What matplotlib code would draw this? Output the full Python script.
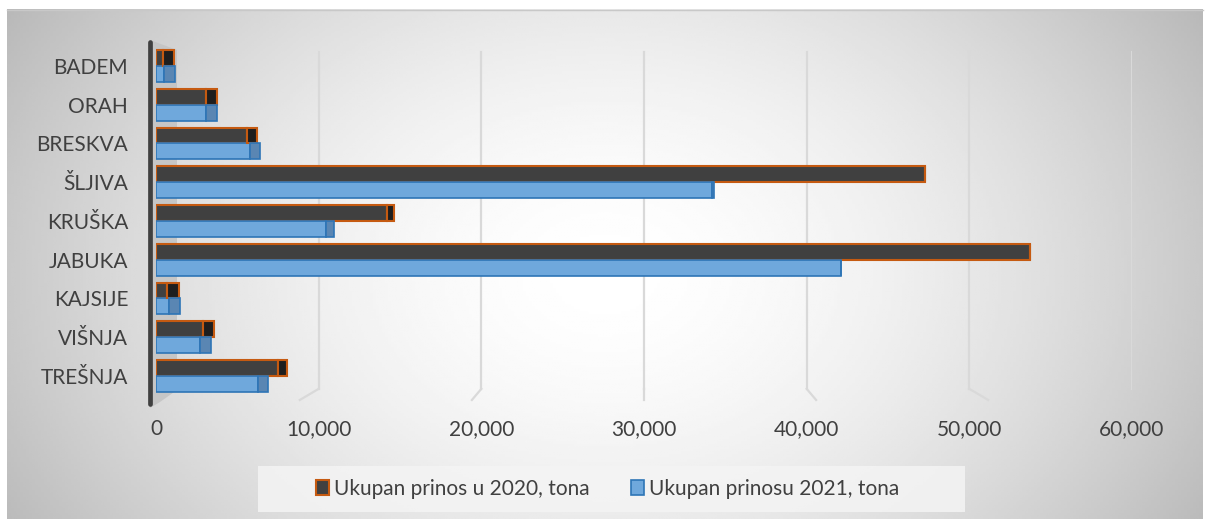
import numpy as np
import matplotlib
matplotlib.use('Agg')
import matplotlib.pyplot as plt
import matplotlib.transforms as mtransforms
from matplotlib.patches import Patch, Polygon, Rectangle
from matplotlib.lines import Line2D

# data (tona)
categories = ['BADEM', 'ORAH', 'BRESKVA', 'ŠLJIVA', 'KRUŠKA', 'JABUKA', 'KAJSIJE', 'VIŠNJA', 'TREŠNJA']
prinos_2020 = [400, 3100, 5600, 47300, 14200, 53700, 700, 2900, 7500]
prinos_2021 = [500, 3100, 5800, 34200, 10450, 42100, 800, 2700, 6300]
x_ticks = [0, 10000, 20000, 30000, 40000, 50000, 60000]
legend_labels = ['Ukupan prinos u 2020, tona', 'Ukupan prinosu 2021, tona']

plt.rcParams['font.family'] = ['Lato', 'DejaVu Sans']
TEXT = '#404040'
DARK, ORANGE = '#404040', '#c55a11'
BLUE, BLUE_EDGE = '#6fa8dc', '#2e75b6'

W, H = 1207, 519
fig = plt.figure(figsize=(W / 100, H / 100), dpi=100)
fig.patch.set_facecolor('white')


def px(x0, y0, x1, y1):
    # pixel box -> figure fraction [left, bottom, width, height]
    return [x0 / W, 1 - y1 / H, (x1 - x0) / W, (y1 - y0) / H]


# background: soft radial gradient, white centre, grey edges
bg = fig.add_axes(px(7, 9, 1203, 519), zorder=-10)
gx, gy = np.meshgrid(np.linspace(0, 1, 400), np.linspace(0, 1, 200))
r = np.sqrt(((gx - 0.5) / 0.55) ** 2 + ((gy - 0.52) / 0.95) ** 2)
shade = 1 - 0.25 * np.clip(r, 0, 1.1) ** 1.7
bg.imshow(shade, cmap='gray', vmin=0, vmax=1, extent=[0, 1, 0, 1], aspect='auto')
bg.axis('off')
fig.add_artist(Line2D([7 / W, 1203 / W], [1 - 9.5 / H] * 2, color='#c8c8c8', lw=1))

# left side wall of the 3d plot and the value axis line (behind the bars)
wall = [(150, 40), (177, 50), (177, 390), (160, 402), (150, 408)]
fig.add_artist(Polygon([(x / W, 1 - y / H) for x, y in wall], closed=True,
                       facecolor='#c4c4c4', edgecolor='none', alpha=0.9, zorder=-5))
fig.add_artist(Line2D([150 / W, 150 / W], [1 - 42 / H, 1 - 404 / H], color=TEXT,
                      lw=3.4, solid_capstyle='round', zorder=-4))

ax = fig.add_axes(px(156, 46, 1132, 405))
ax.patch.set_alpha(0)
ax.set_xlim(0, 60000)
ax.set_ylim(8.749, -0.516)

# gridlines (back wall + small floor slant)
trans = mtransforms.blended_transform_factory(ax.transData, ax.transAxes)
for g in x_ticks[1:]:
    ax.plot([g, g], [0.983, 0.045], transform=trans, color='#d9d9d9', lw=1.6, zorder=0)
    ax.plot([g, g + (g - 30000) * 0.058], [0.045, 0.014], transform=trans,
            color='#d9d9d9', lw=1.6, zorder=0)

y = np.arange(len(categories))
h = 0.41
v20 = np.array(prinos_2020)
v21 = np.array(prinos_2021)
ax.barh(y - h / 2, v20, height=h, color=DARK, edgecolor=ORANGE, lw=1.5, zorder=3)
ax.barh(y + h / 2, v21, height=h, color=BLUE, edgecolor=BLUE_EDGE, lw=1.2, zorder=3)
# visible end faces of the 3d bars (shrink towards the centre of view)
cap20 = np.clip(40000 - v20, 0, None) * 0.0175
cap21 = np.clip(40000 - v21, 0, None) * 0.0175
ax.barh(y - h / 2, cap20, left=v20, height=h, color='#1e1e1e', edgecolor=ORANGE, lw=1.5, zorder=3)
ax.barh(y + h / 2, cap21, left=v21, height=h, color='#5a86b3', edgecolor=BLUE_EDGE, lw=1.2, zorder=3)

ax.set_yticks(y)
ax.set_yticklabels(categories)
ax.set_xticks(x_ticks)
ax.set_xticklabels(['{:,}'.format(t) for t in x_ticks])
ax.tick_params(axis='y', length=0, pad=20, labelsize=15, labelcolor=TEXT)
ax.tick_params(axis='x', length=0, pad=10, labelsize=15, labelcolor=TEXT)
for s in ax.spines.values():
    s.set_visible(False)

# legend
fig.add_artist(Rectangle((258 / W, 1 - 512 / H), 707 / W, 46 / H, transform=fig.transFigure,
                         facecolor='#f4f4f4', edgecolor='none', alpha=0.85))
handles = [Patch(facecolor=DARK, edgecolor=ORANGE, lw=1.5),
           Patch(facecolor=BLUE, edgecolor=BLUE_EDGE, lw=1.2)]
fig.legend(handles, legend_labels, loc='center left', bbox_to_anchor=(306 / W, 1 - 489 / H),
           ncol=2, frameon=False, fontsize=15, labelcolor=TEXT, borderpad=0,
           handlelength=0.6, handleheight=0.75, handletextpad=0.25, columnspacing=2.0)

fig.savefig('out.png', dpi=100)
